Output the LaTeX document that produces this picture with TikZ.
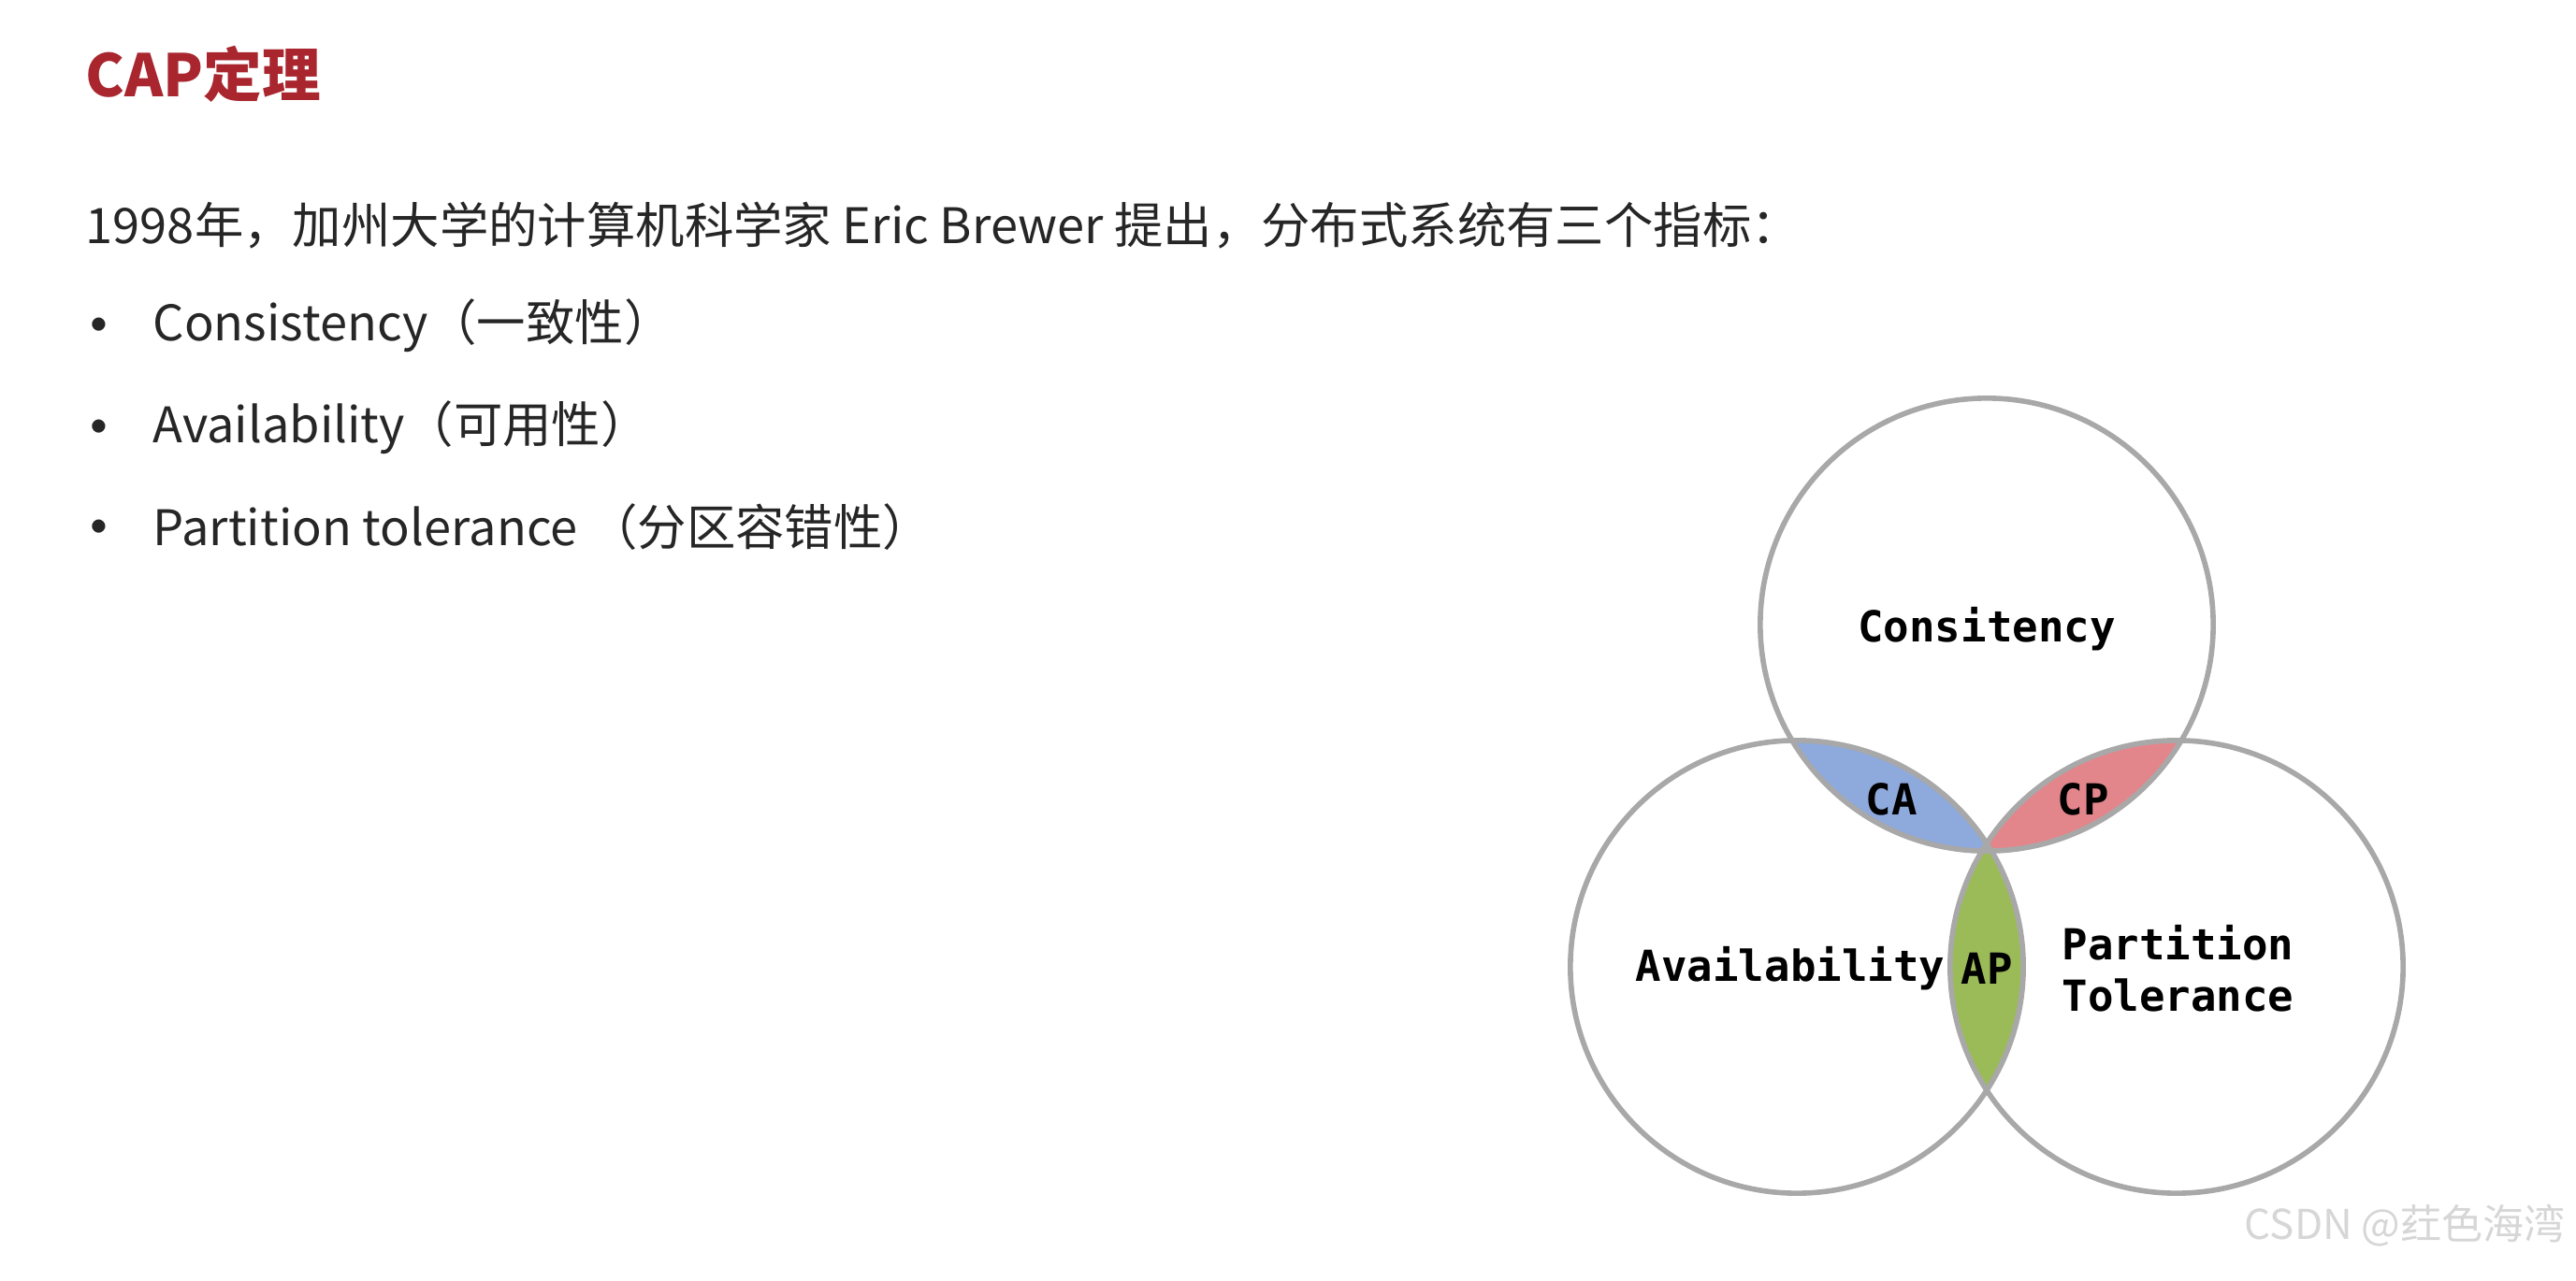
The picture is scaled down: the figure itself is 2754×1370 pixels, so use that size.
\documentclass[tikz,border=0pt]{standalone}
\usepackage{fontspec}
\setmainfont{Noto Sans CJK SC}
\newfontfamily\vennfont{DejaVu Sans Mono}

\definecolor{titlered}{HTML}{A9262E}
\definecolor{textgray}{HTML}{262626}
\definecolor{ringgray}{HTML}{A8A8A8}
\definecolor{cablue}{HTML}{8EA9DB}
\definecolor{cppink}{HTML}{E3868C}
\definecolor{apgreen}{HTML}{9BBB59}
\definecolor{markgray}{HTML}{D6D6D6}

\begin{document}
\begin{tikzpicture}[x=0.01cm,y=-0.01cm,
    ring/.style={line width=1.6pt,draw=ringgray},
    body/.style={anchor=west,inner sep=0pt,text=textgray,font=\fontsize{14.9}{17.5}\selectfont},
    bullet/.style={body,font=\fontsize{19}{20}\selectfont},
    setlabel/.style={inner sep=0pt,font=\vennfont\bfseries\fontsize{13}{15.6}\selectfont}]
  \useasboundingbox (0,0) rectangle (2754,1370);

  % Title and text
  \node[anchor=west,inner sep=0pt,text=titlered,font=\bfseries\fontsize{17.8}{21}\selectfont]
    (title) at (91,79) {CAP定理};
  \node[body] (intro) at (91,241) {1998年，加州大学的计算机科学家 Eric Brewer 提出，分布式系统有三个指标：};
  \node[bullet] (dotc) at (72,356) {•};
  \node[bullet] (dota) at (72,465) {•};
  \node[bullet] (dotp) at (72,572) {•};
  \node[body] (itemc) at (163,348) {Consistency（一致性）};
  \node[body] (itema) at (163,457) {Availability（可用性）};
  \node[body] (itemp) at (163,564) {Partition tolerance （分区容错性）};

  % Circles
  \coordinate (c) at (2124,668);
  \coordinate (a) at (1921,1034);
  \coordinate (p) at (2327,1034);
  \begin{scope}
    \clip (c) circle (2.42cm);
    \fill[cablue] (a) circle (2.42cm);
    \fill[cppink] (p) circle (2.42cm);
  \end{scope}
  \begin{scope}
    \clip (a) circle (2.42cm);
    \fill[apgreen] (p) circle (2.42cm);
  \end{scope}
  \draw[ring] (c) circle (2.42cm);
  \draw[ring] (a) circle (2.42cm);
  \draw[ring] (p) circle (2.42cm);

  % Labels
  \node[setlabel] (cons)  at (2124,673)  {Consitency};
  \node[setlabel] (avail) at (1914,1036) {Availability};
  \node[setlabel,anchor=west,align=left] (part) at (2204,1036) {Partition\\Tolerance};
  \node[setlabel] (ca) at (2022,855)  {CA};
  \node[setlabel] (cp) at (2227,855)  {CP};
  \node[setlabel] (ap) at (2124,1036) {AP};

  % Watermark
  \node[anchor=east,inner sep=0pt,text=markgray,font=\fontsize{12.5}{15}\selectfont]
    (mark) at (2743,1311) {CSDN @荭色海湾};
\end{tikzpicture}
\end{document}
